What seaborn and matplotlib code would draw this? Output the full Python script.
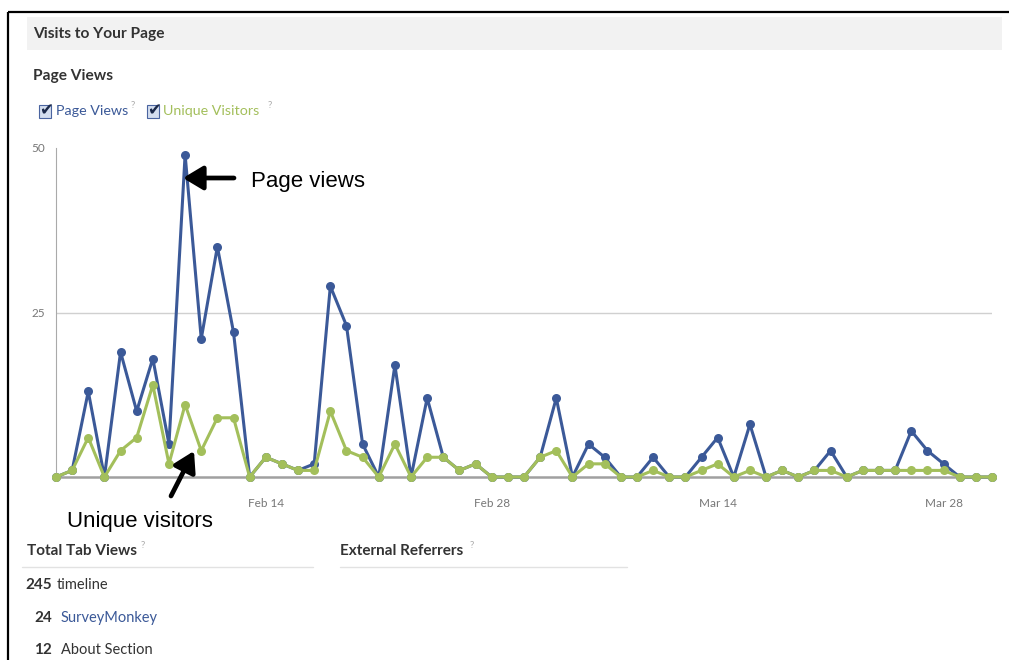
import matplotlib
matplotlib.use("Agg")
import matplotlib.pyplot as plt
from matplotlib.patches import Rectangle
import seaborn as sns
import pandas as pd

# ---- data ----
start_date = "2013-02-01"
end_date = "2013-03-31"
page_views = [0, 1, 13, 0, 19, 10, 18, 5, 49, 21, 35, 22, 0, 3, 2, 1, 2, 29, 23, 5,
              0, 17, 0, 12, 3, 1, 2, 0, 0, 0, 3, 12, 0, 5, 3, 0, 0, 3, 0, 0,
              3, 6, 0, 8, 0, 1, 0, 1, 4, 0, 1, 1, 1, 7, 4, 2, 0, 0, 0]
unique_visitors = [0, 1, 6, 0, 4, 6, 14, 2, 11, 4, 9, 9, 0, 3, 2, 1, 1, 10, 4, 3,
                   0, 5, 0, 3, 3, 1, 2, 0, 0, 0, 3, 4, 0, 2, 2, 0, 0, 1, 0, 0,
                   1, 2, 0, 1, 0, 1, 0, 1, 1, 0, 1, 1, 1, 1, 1, 1, 0, 0, 0]
tick_dates = ["2013-02-14", "2013-02-28", "2013-03-14", "2013-03-28"]
tick_labels = ["Feb 14", "Feb 28", "Mar 14", "Mar 28"]
y_ticks = [25, 50]
tab_counts = ["245", "24", "12"]
tab_names = ["timeline", "SurveyMonkey", "About Section"]

dates = pd.date_range(start_date, end_date, freq="D")
df = pd.DataFrame({"date": dates, "views": page_views, "uniques": unique_visitors})

BLUE = "#3b5998"
GREEN = "#a3bf5b"
UI_FONT = ["Lato", "DejaVu Sans"]
ANN_FONT = ["Liberation Sans", "DejaVu Sans"]

sns.set_theme(style="white")
plt.rcParams["font.family"] = UI_FONT

W, H = 1009, 660
fig = plt.figure(figsize=(W / 100, H / 100), dpi=100)
fig.patch.set_facecolor("white")

def px(x0, y0, x1, y1):
    return [x0 / W, 1 - y1 / H, (x1 - x0) / W, (y1 - y0) / H]

# ---- main chart ----
ax = fig.add_axes(px(56, 148, 992, 477))
ax.set_facecolor("none")
sns.lineplot(data=df, x="date", y="views", ax=ax, color=BLUE, linewidth=2.2,
             marker="o", markersize=6.5, markeredgewidth=0, clip_on=False, zorder=3)
sns.lineplot(data=df, x="date", y="uniques", ax=ax, color=GREEN, linewidth=2.2,
             marker="o", markersize=6.5, markeredgewidth=0, clip_on=False, zorder=4)
ax.set_xlim(dates[0], dates[-1])
ax.set_ylim(0, 50)
ax.axhline(25, color="#d0d0d0", lw=1.0, zorder=1)
ax.set_yticks(y_ticks)
ax.set_yticklabels([str(v) for v in y_ticks], fontsize=8.5, color="#777777")
ax.tick_params(axis="y", length=0, pad=8)
ax.set_xticks(pd.to_datetime(tick_dates))
ax.set_xticklabels(tick_labels, fontsize=8.5, color="#777777")
ax.tick_params(axis="x", length=5, width=0.8, color="#cccccc", pad=10, direction="out")
ax.set_xlabel("")
ax.set_ylabel("")
for s in ["top", "right"]:
    ax.spines[s].set_visible(False)
ax.spines["left"].set_color("#aaaaaa")
ax.spines["left"].set_linewidth(0.8)
ax.spines["bottom"].set_color("#a0a0a0")
ax.spines["bottom"].set_linewidth(1.8)
ax.spines["bottom"].set_zorder(2)

# ---- overlay in pixel coordinates ----
ov = fig.add_axes([0, 0, 1, 1], zorder=10)
ov.set_xlim(0, W)
ov.set_ylim(H, 0)
ov.axis("off")
ov.patch.set_alpha(0)

# frame
ov.plot([8, W], [12, 12], color="black", lw=1.6, solid_capstyle="butt")
ov.plot([8, 8], [12, H], color="black", lw=1.6, solid_capstyle="butt")

# header
ov.add_patch(Rectangle((27, 17), 975, 33, facecolor="#f2f2f2", edgecolor="none"))
ov.text(33, 34, "Visits to Your Page", fontsize=11.2, fontweight="bold", color="#333333", va="center")
ov.text(33, 76, "Page Views", fontsize=11.2, fontweight="bold", color="#333333", va="center")

# legend checkboxes
def checkbox(x, y):
    ov.add_patch(Rectangle((x, y), 12, 13, facecolor="#d4deef", edgecolor="#4a64a0", lw=0.8))
    ov.text(x + 7, y + 5, "\u2714", fontsize=12, color="#1c2a4a", ha="center", va="center",
            family=["DejaVu Sans"])

checkbox(39, 105)
ov.text(56, 111, "Page Views", fontsize=10.3, color=BLUE, va="center")
ov.text(131, 106, "?", fontsize=7, color="#aaaaaa", va="center")
checkbox(147, 105)
ov.text(163, 111, "Unique Visitors", fontsize=10.3, color=GREEN, va="center")
ov.text(268, 106, "?", fontsize=7, color="#aaaaaa", va="center")

# annotations
ov.annotate("", xy=(183, 178), xytext=(234, 178),
            arrowprops=dict(arrowstyle="-|>,head_length=1.0,head_width=0.6", lw=3.4, color="black",
                            shrinkA=0, shrinkB=0))
ov.text(251, 181, "Page views", fontsize=16, color="black", va="center", family=ANN_FONT)
ov.annotate("", xy=(194, 451), xytext=(171, 496),
            arrowprops=dict(arrowstyle="-|>,head_length=1.0,head_width=0.6", lw=3.4, color="black",
                            shrinkA=0, shrinkB=0))
ov.text(67, 521, "Unique visitors", fontsize=16, color="black", va="center", family=ANN_FONT)

# bottom panels
ov.text(27, 551, "Total Tab Views", fontsize=11, fontweight="bold", color="#333333", va="center")
ov.text(141, 545, "?", fontsize=7, color="#aaaaaa", va="center")
ov.plot([22, 313], [567, 567], color="#e2e2e2", lw=1)
ov.text(340, 551, "External Referrers", fontsize=11, fontweight="bold", color="#333333", va="center")
ov.text(470, 545, "?", fontsize=7, color="#aaaaaa", va="center")
ov.plot([340, 627], [567, 567], color="#e2e2e2", lw=1)

rows_y = [585, 618, 650]
name_colors = ["#333333", BLUE, "#333333"]
for cnt, name, y, c in zip(tab_counts, tab_names, rows_y, name_colors):
    ov.text(52, y, cnt, fontsize=11, fontweight="bold", color="#333333", va="center", ha="right")
    ov.text(57 if len(cnt) == 3 else 61, y, name, fontsize=10.5, color=c, va="center")

fig.savefig("out.png", dpi=100, facecolor="white")
